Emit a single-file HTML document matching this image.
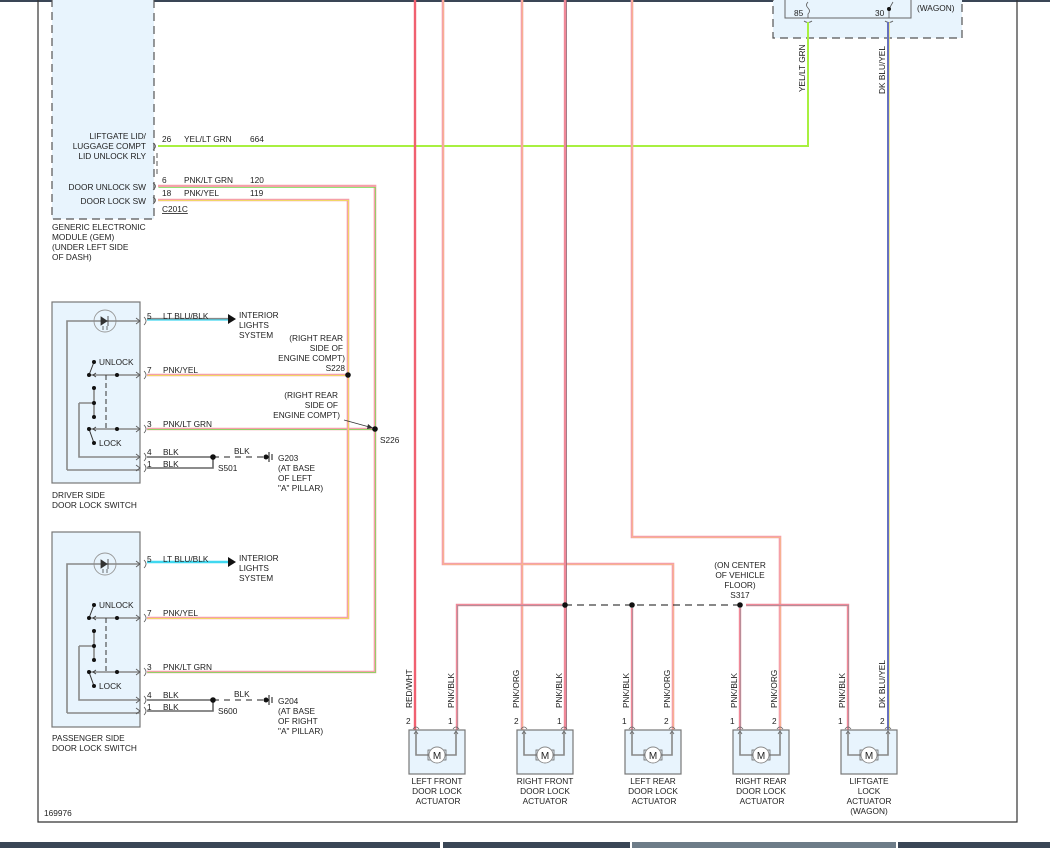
<!DOCTYPE html>
<html><head><meta charset="utf-8"><style>
html,body{margin:0;padding:0;background:#fff;}
svg{display:block;font-family:"Liberation Sans",Arial,sans-serif;}
text{font-size:8.3px;fill:#222;}
</style></head><body>
<svg width="1050" height="848" viewBox="0 0 1050 848" xmlns="http://www.w3.org/2000/svg">
<defs>
<g id="act">
  <rect x="0" y="0" width="56" height="44" fill="#e8f4fd" stroke="#777" stroke-width="1.2"/>
  <path d="M7,2 V25 H20 M36,25 H47 V2" fill="none" stroke="#888" stroke-width="1.6"/>
  <path d="M4,-1 Q7,-5 10,-1 M44,-1 Q47,-5 50,-1" fill="none" stroke="#666" stroke-width="0.8"/>
  <path d="M5,4 L7,1 L9,4 M45,4 L47,1 L49,4" fill="none" stroke="#666" stroke-width="0.8"/>
  <rect x="19" y="20" width="4" height="10" fill="none" stroke="#666" stroke-width="0.8"/>
  <rect x="33" y="20" width="4" height="10" fill="none" stroke="#666" stroke-width="0.8"/>
  <circle cx="28" cy="25" r="8" fill="#fff" stroke="#888" stroke-width="0.9"/>
  <text x="28" y="29" text-anchor="middle" style="font-size:10px">M</text>
</g>
<g id="sw">
  <circle cx="105" cy="2" r="11" fill="none" stroke="#999" stroke-width="0.9"/>
  <path d="M67,151 V2 H140" fill="none" stroke="#888" stroke-width="1.6"/>
  <path d="M67,151 H140" fill="none" stroke="#888" stroke-width="1.6"/>
  <path d="M101,-2 L107,2 L101,6 Z M108,-3 V7" fill="#333" stroke="#333" stroke-width="0.8"/>
  <path d="M103,7 V11 M107,7 V11" stroke="#333" stroke-width="0.7"/>
  <path d="M89,56 H140 M89,110 H140 M79,84 H94 M79,84 V138 H140 M94,69 V98" fill="none" stroke="#888" stroke-width="1.6"/>
  <path d="M94,43 L89,56 M89,110 L94,124" stroke="#333" stroke-width="1"/>
  <path d="M106,56 V110" stroke="#333" stroke-width="1" stroke-dasharray="5,3"/>
  <g fill="#111"><circle cx="94" cy="43" r="2"/><circle cx="89" cy="56" r="2"/><circle cx="117" cy="56" r="2"/>
  <circle cx="94" cy="69" r="2"/><circle cx="94" cy="84" r="2"/><circle cx="94" cy="98" r="2"/>
  <circle cx="89" cy="110" r="2"/><circle cx="117" cy="110" r="2"/><circle cx="94" cy="124" r="2"/></g>
  <path d="M96,54 L93,56 L96,58 M96,108 L93,110 L96,112" fill="none" stroke="#333" stroke-width="0.8"/>
  <text x="99" y="46">UNLOCK</text><text x="99" y="127">LOCK</text>
  <g fill="none" stroke="#555" stroke-width="0.8">
   <path d="M136,-1 L140,2 L136,5 M136,53 L140,56 L136,59 M136,107 L140,110 L136,113 M136,135 L140,138 L136,141 M136,146 L140,149 L136,152"/>
   <path d="M144,-2 Q148,2 144,6 M144,52 Q148,56 144,60 M144,106 Q148,110 144,114 M144,134 Q148,138 144,142 M144,145 Q148,149 144,153"/>
  </g>
</g>
</defs>

<rect x="0" y="0" width="1050" height="2" fill="#3a4656"/>
<path d="M38,0 V822 H1017 V0" fill="none" stroke="#333" stroke-width="1.2"/>
<rect x="0" y="842" width="440" height="6" fill="#3a4656"/>
<rect x="443" y="842" width="187" height="6" fill="#3a4656"/>
<rect x="632" y="842" width="264" height="6" fill="#6d7c88"/>
<rect x="898" y="842" width="152" height="6" fill="#3a4656"/>

<rect x="52" y="-2" width="102" height="221" fill="#e8f4fd" stroke="#555" stroke-width="1.2" stroke-dasharray="8,5"/>
<g text-anchor="end">
<text x="146" y="139">LIFTGATE LID/</text><text x="146" y="149">LUGGAGE COMPT</text><text x="146" y="159">LID UNLOCK RLY</text>
<text x="146" y="190">DOOR UNLOCK SW</text><text x="146" y="204">DOOR LOCK SW</text></g>
<path d="M153,143 Q158,146 153,150 M153,183 Q158,186 153,190 M153,197 Q158,200 153,204" fill="none" stroke="#555" stroke-width="0.8"/>
<path d="M157,153 V175" stroke="#555" stroke-width="1" stroke-dasharray="5,3"/>
<text x="162" y="142">26</text><text x="184" y="142">YEL/LT GRN</text><text x="250" y="142">664</text>
<text x="162" y="183">6</text><text x="184" y="183">PNK/LT GRN</text><text x="250" y="183">120</text>
<text x="162" y="196">18</text><text x="184" y="196">PNK/YEL</text><text x="250" y="196">119</text>
<text x="162" y="212" text-decoration="underline">C201C</text>
<text x="52" y="230">GENERIC ELECTRONIC</text><text x="52" y="240">MODULE (GEM)</text><text x="52" y="250">(UNDER LEFT SIDE</text><text x="52" y="260">OF DASH)</text>

<rect x="773" y="-2" width="189" height="40" fill="#e8f4fd" stroke="#555" stroke-width="1.2" stroke-dasharray="8,5"/>
<rect x="785" y="-2" width="126" height="20" fill="#e8f4fd" stroke="#666" stroke-width="1"/>
<text x="794" y="16">85</text><text x="875" y="16">30</text><text x="917" y="11">(WAGON)</text>
<path d="M808,2 q-3,3 0,6 q3,3 0,6 V18 M889,18 V9 L893,2" fill="none" stroke="#555" stroke-width="0.8"/>
<circle cx="889" cy="9" r="2" fill="#111"/>
<path d="M804,21 Q808,24 812,21 M885,21 Q889,24 893,21" fill="none" stroke="#555" stroke-width="0.8"/>

<g fill="none" stroke-linejoin="miter">
 <path d="M158,146 H808 V22" stroke="#a8f040" stroke-width="2"/>
 <path d="M888,22 V730" stroke="#6670c0" stroke-width="2"/>
 <path d="M889.5,22 V730" stroke="#e8e070" stroke-width="0.7"/>

 <path d="M158,186 H375 V672 H147 M147,429 H375" stroke="#f5a0a8" stroke-width="2.6"/>
 <path transform="translate(1.5,1.5)" d="M157,186 H374 V671 H146 M146,428 H374" stroke="#70e050" stroke-width="0.7"/>

 <path d="M158,200 H348 V618 H147 M147,375 H348" stroke="#f5a0a8" stroke-width="2.6"/>
 <path transform="translate(1.5,1.5)" d="M157,199 H347 V617 H146 M146,374 H347" stroke="#f0e850" stroke-width="0.7"/>

 <path d="M147,319 H230" stroke="#888" stroke-width="2.2"/><path d="M147,320 H230" stroke="#40d8f0" stroke-width="1.2"/>
 <path d="M147,562 H230" stroke="#40d8f0" stroke-width="2.4"/>
 <path d="M147,457 H213 M147,468 H213 V457" stroke="#666" stroke-width="1.6"/>
 <path d="M147,700 H213 M147,711 H213 V700" stroke="#666" stroke-width="1.6"/>
 <path d="M213,457 H266 M213,700 H266" stroke="#222" stroke-width="1.1" stroke-dasharray="6,5"/>
 <path d="M415,0 V730" stroke="#f06070" stroke-width="2.4"/>

 <path d="M443,0 V564 H673 V730 M522,0 V730 M632,0 V537 H780 V730" stroke="#f5a0a8" stroke-width="2.6"/>
 <path transform="translate(1.5,1.5)" d="M442,-2 V563 H672 V729 M521,-2 V729 M631,-2 V536 H779 V729" stroke="#f8b888" stroke-width="0.7"/>

 <path d="M565,0 V730" stroke="#f08898" stroke-width="2.4"/><path d="M566.5,0 V730" stroke="#906070" stroke-width="0.8"/>
 <path d="M457,730 V605 H562 M632,608 V730 M740,608 V730 M746,605 H848 V730" stroke="#f08898" stroke-width="2.4"/>
 <path transform="translate(1.5,1.5)" d="M456,729 V604 H561 M631,607 V729 M739,607 V729 M745,604 H847 V729" stroke="#a09098" stroke-width="0.7"/>
 <path d="M565,605 H740" stroke="#111" stroke-width="1.1" stroke-dasharray="7,5"/>
</g>

<g fill="#111">
<circle cx="348" cy="375" r="2.8"/><circle cx="375" cy="429" r="2.8"/>
<circle cx="213" cy="457" r="2.8"/><circle cx="213" cy="700" r="2.8"/>
<circle cx="565" cy="605" r="2.8"/><circle cx="632" cy="605" r="2.8"/><circle cx="740" cy="605" r="2.8"/>
<circle cx="266" cy="457" r="2.5"/><circle cx="266" cy="700" r="2.5"/>
</g>
<path d="M269,452 V462 M272,454 V460 M269,695 V705 M272,697 V703" stroke="#111" stroke-width="1"/>
<path d="M228,314 L236,319 L228,324 Z M228,557 L236,562 L228,567 Z" fill="#111"/>
<path d="M344,420 L373,428" stroke="#333" stroke-width="0.8"/><path d="M368,424 L373,428 L367,429" fill="#333"/>

<rect x="52" y="302" width="88" height="181" fill="#e8f4fd" stroke="#777" stroke-width="1.2"/>
<rect x="52" y="532" width="88" height="195" fill="#e8f4fd" stroke="#777" stroke-width="1.2"/>
<use href="#sw" transform="translate(0,319)"/>
<use href="#sw" transform="translate(0,562)"/>

<g>
<text x="147" y="319">5</text><text x="163" y="319">LT BLU/BLK</text>
<text x="147" y="373">7</text><text x="163" y="373">PNK/YEL</text>
<text x="147" y="427">3</text><text x="163" y="427">PNK/LT GRN</text>
<text x="147" y="455">4</text><text x="163" y="455">BLK</text><text x="234" y="454">BLK</text>
<text x="147" y="467">1</text><text x="163" y="467">BLK</text><text x="218" y="471">S501</text>
<text x="239" y="318">INTERIOR</text><text x="239" y="328">LIGHTS</text><text x="239" y="338">SYSTEM</text>
<text x="278" y="461">G203</text><text x="278" y="471">(AT BASE</text><text x="278" y="481">OF LEFT</text><text x="278" y="491">"A" PILLAR)</text>
<text x="52" y="498">DRIVER SIDE</text><text x="52" y="508">DOOR LOCK SWITCH</text>
<text x="147" y="562">5</text><text x="163" y="562">LT BLU/BLK</text>
<text x="147" y="616">7</text><text x="163" y="616">PNK/YEL</text>
<text x="147" y="670">3</text><text x="163" y="670">PNK/LT GRN</text>
<text x="147" y="698">4</text><text x="163" y="698">BLK</text><text x="234" y="697">BLK</text>
<text x="147" y="710">1</text><text x="163" y="710">BLK</text><text x="218" y="714">S600</text>
<text x="239" y="561">INTERIOR</text><text x="239" y="571">LIGHTS</text><text x="239" y="581">SYSTEM</text>
<text x="278" y="704">G204</text><text x="278" y="714">(AT BASE</text><text x="278" y="724">OF RIGHT</text><text x="278" y="734">"A" PILLAR)</text>
<text x="52" y="741">PASSENGER SIDE</text><text x="52" y="751">DOOR LOCK SWITCH</text>
</g>
<g text-anchor="end">
<text x="343" y="341">(RIGHT REAR</text><text x="343" y="351">SIDE OF</text><text x="345" y="361">ENGINE COMPT)</text><text x="345" y="371">S228</text>
<text x="338" y="398">(RIGHT REAR</text><text x="338" y="408">SIDE OF</text><text x="340" y="418">ENGINE COMPT)</text>
</g>
<text x="380" y="443">S226</text>
<g text-anchor="middle">
<text x="740" y="568">(ON CENTER</text><text x="740" y="578">OF VEHICLE</text><text x="740" y="588">FLOOR)</text><text x="740" y="598">S317</text>
</g>

<g>
<text transform="translate(412,708) rotate(-90)">RED/WHT</text>
<text transform="translate(454,708) rotate(-90)">PNK/BLK</text>
<text transform="translate(519,708) rotate(-90)">PNK/ORG</text>
<text transform="translate(562,708) rotate(-90)">PNK/BLK</text>
<text transform="translate(629,708) rotate(-90)">PNK/BLK</text>
<text transform="translate(670,708) rotate(-90)">PNK/ORG</text>
<text transform="translate(737,708) rotate(-90)">PNK/BLK</text>
<text transform="translate(777,708) rotate(-90)">PNK/ORG</text>
<text transform="translate(845,708) rotate(-90)">PNK/BLK</text>
<text transform="translate(885,708) rotate(-90)">DK BLU/YEL</text>
<text transform="translate(805,92) rotate(-90)">YEL/LT GRN</text>
<text transform="translate(885,94) rotate(-90)">DK BLU/YEL</text>
</g>
<g>
<text x="406" y="724">2</text><text x="448" y="724">1</text>
<text x="514" y="724">2</text><text x="557" y="724">1</text>
<text x="622" y="724">1</text><text x="664" y="724">2</text>
<text x="730" y="724">1</text><text x="772" y="724">2</text>
<text x="838" y="724">1</text><text x="880" y="724">2</text>
</g>

<use href="#act" transform="translate(409,730)"/>
<use href="#act" transform="translate(517,730)"/>
<use href="#act" transform="translate(625,730)"/>
<use href="#act" transform="translate(733,730)"/>
<use href="#act" transform="translate(841,730)"/>
<g text-anchor="middle">
<text x="437" y="784">LEFT FRONT</text><text x="437" y="794">DOOR LOCK</text><text x="438" y="804">ACTUATOR</text>
<text x="545" y="784">RIGHT FRONT</text><text x="545" y="794">DOOR LOCK</text><text x="545" y="804">ACTUATOR</text>
<text x="653" y="784">LEFT REAR</text><text x="653" y="794">DOOR LOCK</text><text x="654" y="804">ACTUATOR</text>
<text x="761" y="784">RIGHT REAR</text><text x="761" y="794">DOOR LOCK</text><text x="762" y="804">ACTUATOR</text>
<text x="869" y="784">LIFTGATE</text><text x="869" y="794">LOCK</text><text x="869" y="804">ACTUATOR</text><text x="869" y="814">(WAGON)</text>
</g>
<text x="44" y="816">169976</text>
</svg>
</body></html>
